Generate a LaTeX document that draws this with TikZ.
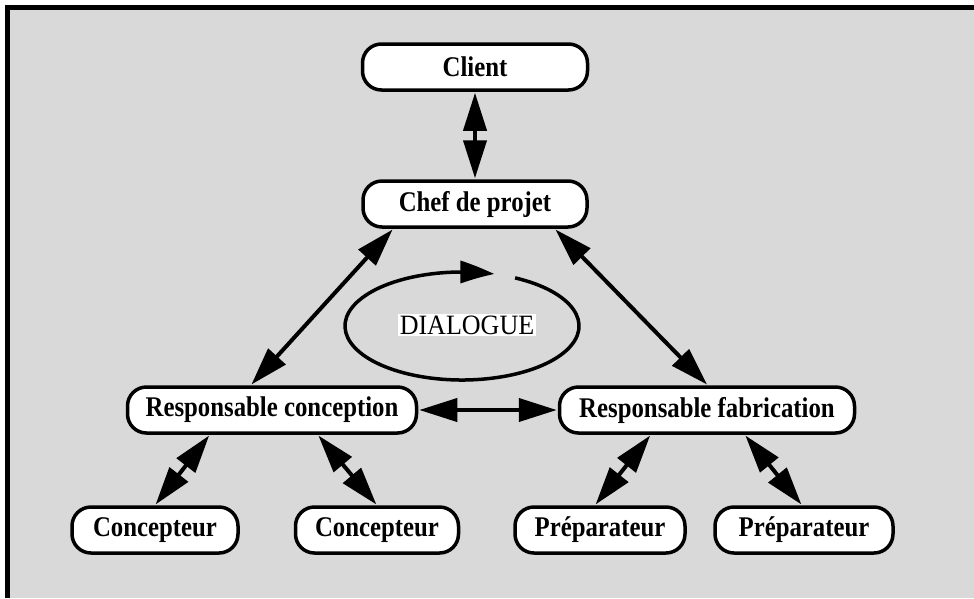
\documentclass[tikz,border=0pt]{standalone}
\usepackage{fontspec}
\setmainfont{Liberation Serif}
\newfontfamily\boxfont{Liberation Serif}[FakeStretch=0.87]
\newfontfamily\dlgfont{Liberation Serif}[FakeStretch=0.93]
\usetikzlibrary{arrows.meta,calc,bending}
\tikzset{
  box/.style={draw=black, line width=3.5pt, fill=white, rounded corners=19pt,
    minimum height=46pt, inner sep=0pt, font=\boxfont\bfseries\fontsize{28.5}{30}\selectfont},
  dbl/.style={line width=4pt,
    {Triangle[length=38pt,width=23pt]}-{Triangle[length=38pt,width=23pt]},
    shorten <=1pt, shorten >=1pt},
}
\begin{document}
\begin{tikzpicture}[x=1pt,y=-1pt]
\useasboundingbox (0,0) rectangle (974,598);
\fill[black!15] (7.5,7.5) rectangle (974,598);
\draw[line width=4.5pt] (7.5,598) -- (7.5,7.5) -- (974,7.5);

\node[box, minimum width=225pt] (client) at (475,67) {Client};
\node[box, minimum width=224pt] (chef) at (475,204) {Chef de projet};
\node[box, minimum width=289pt] (rc) at (272,410) {Responsable conception};
\node[box, minimum width=295pt] (rf) at (707,410) {Responsable fabrication};
\node[box, minimum width=166pt] (c1) at (155,530) {Concepteur};
\node[box, minimum width=163pt] (c2) at (377,530) {Concepteur};
\node[box, minimum width=170pt] (p1) at (600,530) {Préparateur};
\node[box, minimum width=178pt] (p2) at (804,530) {Préparateur};

\draw[dbl] (client.south) -- (chef.north);
\draw[dbl] ([xshift=32pt]chef.south west) -- ([xshift=125pt]rc.north west);
\draw[dbl] ([xshift=-34pt]chef.south east) -- ([xshift=150pt]rf.north west);
\draw[dbl] (rc.east) -- (rf.west);
\draw[dbl] ([xshift=84pt]rc.south west) -- (c1.north);
\draw[dbl] ([xshift=192pt]rc.south west) -- (c2.north);
\draw[dbl] ([xshift=93pt]rf.south west) -- ([xshift=-5pt]p1.north);
\draw[dbl] ([xshift=187pt]rf.south west) -- ([xshift=-2pt]p2.north);

\coordinate (ec) at (462,326);
\draw[line width=3.5pt, -{Triangle[length=34pt,width=22pt,bend]}]
  ($(ec)+({117*cos(-63)},{54*sin(-63)})$)
  arc[start angle=-63, end angle=286, x radius=117, y radius=54];
\node[fill=white, inner sep=2pt, font=\dlgfont\fontsize{28}{30}\selectfont] (dlg) at (467,325) {DIALOGUE};
\end{tikzpicture}
\end{document}
